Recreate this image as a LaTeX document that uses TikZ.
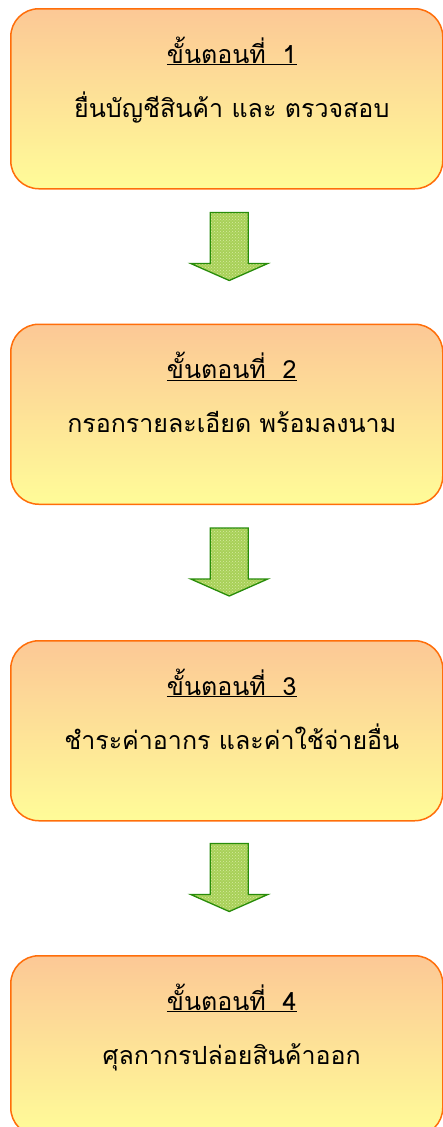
\documentclass[tikz,border=0pt]{standalone}
\usepackage{fontspec}
\newfontfamily\thaifont[Script=Thai]{Loma}
\usetikzlibrary{patterns,calc}
\definecolor{boxedge}{RGB}{255,110,10}
\definecolor{boxtop}{RGB}{252,200,150}
\definecolor{boxbot}{RGB}{255,252,152}
\definecolor{arrfill}{RGB}{168,208,88}
\definecolor{arrdot}{RGB}{215,235,160}
\definecolor{arredge}{RGB}{40,140,10}
\tikzset{
  stepbox/.style={draw=boxedge, line width=1.5pt, rounded corners=28pt,
    top color=boxtop, bottom color=boxbot, minimum width=432pt,
    minimum height=180pt, anchor=north west, inner sep=0pt},
  titletext/.style={font=\thaifont\fontsize{25}{28}\selectfont, anchor=base, inner sep=0pt},
  bodytext/.style={font=\thaifont\fontsize{25}{28}\selectfont, anchor=base, inner sep=0pt},
  blockarrow/.pic={
    \path[preaction={fill=arrfill}, pattern=crosshatch dots, pattern color=arrdot,
      draw=arredge, line width=1.3pt, line join=miter]
      (-19,0) -- (19,0) -- (19,51) -- (38.5,51) -- (0,68) -- (-38.5,51) -- (-19,51) -- cycle;
  }
}
\begin{document}
\begin{tikzpicture}[x=1pt,y=-1pt]
\useasboundingbox (0,0) rectangle (443,1127);
\node[stepbox] (b1) at (10,8) {};
\node[stepbox] (b2) at (10,323.5) {};
\node[stepbox] (b3) at (10,640) {};
\node[stepbox] (b4) at (10,955) {};
\foreach \b/\n/\t in {b1/1/{ยื่นบัญชีสินค้า และ ตรวจสอบ},
                      b2/2/{กรอกรายละเอียด พร้อมลงนาม},
                      b3/3/{ชำระค่าอากร และค่าใช้จ่ายอื่น},
                      b4/4/{ศุลกากรปล่อยสินค้าออก}}{
  \node[titletext] (\b t) at ($(\b.north)+(5,55)$) {\underline{ขั้นตอนที่~~\n}};
  \node[bodytext] (\b x) at ($(\b.north)+(5,109)$) {\t};
}
\coordinate (a1) at ($(b1.south)+(2.5,23)$);
\coordinate (a2) at ($(b2.south)+(2.5,23)$);
\coordinate (a3) at ($(b3.south)+(2.5,22)$);
\pic at (a1) {blockarrow};
\pic at (a2) {blockarrow};
\pic at (a3) {blockarrow};
\end{tikzpicture}
\end{document}
